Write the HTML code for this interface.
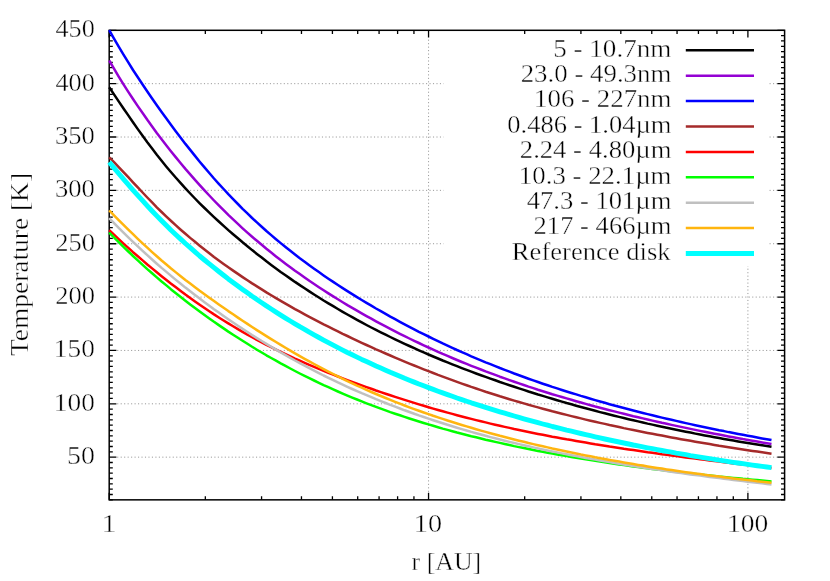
<!DOCTYPE html>
<html><head><meta charset="utf-8"><title>Temperature vs r</title>
<style>
html,body{margin:0;padding:0;background:#fff;}
svg{display:block;will-change:transform;}
text{font-family:"Liberation Serif",serif;font-size:24.2px;fill:#000;stroke:#fff;stroke-width:0.4px;}
.g{stroke:#808080;stroke-width:0.8;stroke-dasharray:1.1 2.37;fill:none;}
.t{stroke:#000;stroke-width:1.3;fill:none;}
.c{fill:none;stroke-linecap:butt;stroke-linejoin:round;}
</style></head><body>
<svg width="830" height="581" viewBox="0 0 830 581">
<rect x="0" y="0" width="830" height="581" fill="#ffffff"/>
<g class="g">
<line x1="117.20" y1="457.16" x2="777.60" y2="457.16"/>
<line x1="117.20" y1="403.81" x2="777.60" y2="403.81"/>
<line x1="117.20" y1="350.45" x2="777.60" y2="350.45"/>
<line x1="117.20" y1="297.09" x2="777.60" y2="297.09"/>
<line x1="117.20" y1="243.73" x2="777.60" y2="243.73"/>
<line x1="117.20" y1="190.37" x2="777.60" y2="190.37"/>
<line x1="117.20" y1="137.02" x2="777.60" y2="137.02"/>
<line x1="117.20" y1="83.66" x2="777.60" y2="83.66"/>
<line x1="428.55" y1="491.85" x2="428.55" y2="37.30"/>
<line x1="747.90" y1="491.85" x2="747.90" y2="37.30"/>
</g>
<rect x="443.5" y="33" width="325.5" height="233" fill="#ffffff"/>
<path class="t" d="M109.20 499.85h3.6M784.60 499.85h-3.6M109.20 494.51h3.6M784.60 494.51h-3.6M109.20 489.18h3.6M784.60 489.18h-3.6M109.20 483.84h3.6M784.60 483.84h-3.6M109.20 478.51h3.6M784.60 478.51h-3.6M109.20 473.17h3.6M784.60 473.17h-3.6M109.20 467.84h3.6M784.60 467.84h-3.6M109.20 462.50h3.6M784.60 462.50h-3.6M109.20 457.16h7.2M784.60 457.16h-7.2M109.20 451.83h3.6M784.60 451.83h-3.6M109.20 446.49h3.6M784.60 446.49h-3.6M109.20 441.16h3.6M784.60 441.16h-3.6M109.20 435.82h3.6M784.60 435.82h-3.6M109.20 430.49h3.6M784.60 430.49h-3.6M109.20 425.15h3.6M784.60 425.15h-3.6M109.20 419.81h3.6M784.60 419.81h-3.6M109.20 414.48h3.6M784.60 414.48h-3.6M109.20 409.14h3.6M784.60 409.14h-3.6M109.20 403.81h7.2M784.60 403.81h-7.2M109.20 398.47h3.6M784.60 398.47h-3.6M109.20 393.13h3.6M784.60 393.13h-3.6M109.20 387.80h3.6M784.60 387.80h-3.6M109.20 382.46h3.6M784.60 382.46h-3.6M109.20 377.13h3.6M784.60 377.13h-3.6M109.20 371.79h3.6M784.60 371.79h-3.6M109.20 366.46h3.6M784.60 366.46h-3.6M109.20 361.12h3.6M784.60 361.12h-3.6M109.20 355.78h3.6M784.60 355.78h-3.6M109.20 350.45h7.2M784.60 350.45h-7.2M109.20 345.11h3.6M784.60 345.11h-3.6M109.20 339.78h3.6M784.60 339.78h-3.6M109.20 334.44h3.6M784.60 334.44h-3.6M109.20 329.10h3.6M784.60 329.10h-3.6M109.20 323.77h3.6M784.60 323.77h-3.6M109.20 318.43h3.6M784.60 318.43h-3.6M109.20 313.10h3.6M784.60 313.10h-3.6M109.20 307.76h3.6M784.60 307.76h-3.6M109.20 302.43h3.6M784.60 302.43h-3.6M109.20 297.09h7.2M784.60 297.09h-7.2M109.20 291.75h3.6M784.60 291.75h-3.6M109.20 286.42h3.6M784.60 286.42h-3.6M109.20 281.08h3.6M784.60 281.08h-3.6M109.20 275.75h3.6M784.60 275.75h-3.6M109.20 270.41h3.6M784.60 270.41h-3.6M109.20 265.08h3.6M784.60 265.08h-3.6M109.20 259.74h3.6M784.60 259.74h-3.6M109.20 254.40h3.6M784.60 254.40h-3.6M109.20 249.07h3.6M784.60 249.07h-3.6M109.20 243.73h7.2M784.60 243.73h-7.2M109.20 238.40h3.6M784.60 238.40h-3.6M109.20 233.06h3.6M784.60 233.06h-3.6M109.20 227.72h3.6M784.60 227.72h-3.6M109.20 222.39h3.6M784.60 222.39h-3.6M109.20 217.05h3.6M784.60 217.05h-3.6M109.20 211.72h3.6M784.60 211.72h-3.6M109.20 206.38h3.6M784.60 206.38h-3.6M109.20 201.05h3.6M784.60 201.05h-3.6M109.20 195.71h3.6M784.60 195.71h-3.6M109.20 190.37h7.2M784.60 190.37h-7.2M109.20 185.04h3.6M784.60 185.04h-3.6M109.20 179.70h3.6M784.60 179.70h-3.6M109.20 174.37h3.6M784.60 174.37h-3.6M109.20 169.03h3.6M784.60 169.03h-3.6M109.20 163.70h3.6M784.60 163.70h-3.6M109.20 158.36h3.6M784.60 158.36h-3.6M109.20 153.02h3.6M784.60 153.02h-3.6M109.20 147.69h3.6M784.60 147.69h-3.6M109.20 142.35h3.6M784.60 142.35h-3.6M109.20 137.02h7.2M784.60 137.02h-7.2M109.20 131.68h3.6M784.60 131.68h-3.6M109.20 126.34h3.6M784.60 126.34h-3.6M109.20 121.01h3.6M784.60 121.01h-3.6M109.20 115.67h3.6M784.60 115.67h-3.6M109.20 110.34h3.6M784.60 110.34h-3.6M109.20 105.00h3.6M784.60 105.00h-3.6M109.20 99.67h3.6M784.60 99.67h-3.6M109.20 94.33h3.6M784.60 94.33h-3.6M109.20 88.99h3.6M784.60 88.99h-3.6M109.20 83.66h7.2M784.60 83.66h-7.2M109.20 78.32h3.6M784.60 78.32h-3.6M109.20 72.99h3.6M784.60 72.99h-3.6M109.20 67.65h3.6M784.60 67.65h-3.6M109.20 62.31h3.6M784.60 62.31h-3.6M109.20 56.98h3.6M784.60 56.98h-3.6M109.20 51.64h3.6M784.60 51.64h-3.6M109.20 46.31h3.6M784.60 46.31h-3.6M109.20 40.97h3.6M784.60 40.97h-3.6M109.20 35.64h3.6M784.60 35.64h-3.6M109.20 30.30h7.2M784.60 30.30h-7.2M109.20 499.85v-7.2M109.20 30.30v7.2M205.33 499.85v-3.6M205.33 30.30v3.6M261.57 499.85v-3.6M261.57 30.30v3.6M301.47 499.85v-3.6M301.47 30.30v3.6M332.42 499.85v-3.6M332.42 30.30v3.6M357.70 499.85v-3.6M357.70 30.30v3.6M379.08 499.85v-3.6M379.08 30.30v3.6M397.60 499.85v-3.6M397.60 30.30v3.6M413.94 499.85v-3.6M413.94 30.30v3.6M428.55 499.85v-7.2M428.55 30.30v7.2M524.68 499.85v-3.6M524.68 30.30v3.6M580.92 499.85v-3.6M580.92 30.30v3.6M620.82 499.85v-3.6M620.82 30.30v3.6M651.77 499.85v-3.6M651.77 30.30v3.6M677.05 499.85v-3.6M677.05 30.30v3.6M698.43 499.85v-3.6M698.43 30.30v3.6M716.95 499.85v-3.6M716.95 30.30v3.6M733.29 499.85v-3.6M733.29 30.30v3.6M747.90 499.85v-7.2M747.90 30.30v7.2"/>
<rect x="109.20" y="30.30" width="675.40" height="469.55" fill="none" stroke="#000" stroke-width="1.5"/>
<polyline class="c" stroke="#000000" stroke-width="2.5" points="109.2,87.3 114.0,94.4 118.7,101.4 123.5,108.5 128.3,115.4 133.0,122.3 137.8,129.1 142.6,135.8 147.3,142.3 152.1,148.6 156.8,154.8 161.6,160.8 166.4,166.7 171.1,172.3 175.9,177.8 180.7,183.2 185.4,188.4 190.2,193.5 195.0,198.5 199.7,203.3 204.5,208.0 209.3,212.6 214.0,217.1 218.8,221.5 223.6,225.9 228.3,230.1 233.1,234.2 237.9,238.3 242.6,242.3 247.4,246.2 252.1,250.1 256.9,253.9 261.7,257.6 266.4,261.3 271.2,264.9 276.0,268.4 280.7,271.9 285.5,275.3 290.3,278.6 295.0,281.9 299.8,285.1 304.6,288.3 309.3,291.4 314.1,294.5 318.9,297.5 323.6,300.5 328.4,303.4 333.2,306.2 337.9,309.0 342.7,311.8 347.4,314.5 352.2,317.2 357.0,319.8 361.7,322.4 366.5,325.0 371.3,327.5 376.0,329.9 380.8,332.3 385.6,334.7 390.3,337.0 395.1,339.3 399.9,341.6 404.6,343.8 409.4,346.0 414.2,348.2 418.9,350.3 423.7,352.4 428.5,354.5 433.2,356.5 438.0,358.5 442.7,360.5 447.5,362.4 452.3,364.3 457.0,366.2 461.8,368.1 466.6,369.9 471.3,371.7 476.1,373.5 480.9,375.2 485.6,376.9 490.4,378.6 495.2,380.3 499.9,382.0 504.7,383.6 509.5,385.2 514.2,386.8 519.0,388.4 523.8,389.9 528.5,391.5 533.3,393.0 538.0,394.5 542.8,395.9 547.6,397.4 552.3,398.8 557.1,400.2 561.9,401.6 566.6,403.0 571.4,404.3 576.2,405.7 580.9,407.0 585.7,408.3 590.5,409.5 595.2,410.8 600.0,412.1 604.8,413.3 609.5,414.5 614.3,415.7 619.1,416.9 623.8,418.0 628.6,419.2 633.3,420.3 638.1,421.4 642.9,422.5 647.6,423.6 652.4,424.6 657.2,425.7 661.9,426.7 666.7,427.7 671.5,428.7 676.2,429.7 681.0,430.7 685.8,431.7 690.5,432.6 695.3,433.6 700.1,434.5 704.8,435.4 709.6,436.3 714.4,437.2 719.1,438.0 723.9,438.9 728.6,439.7 733.4,440.5 738.2,441.4 742.9,442.2 747.7,443.0 752.5,443.7 757.2,444.5 762.0,445.3 766.8,446.0 771.5,446.7"/>
<polyline class="c" stroke="#9400d3" stroke-width="2.5" points="109.2,60.5 114.0,68.7 118.7,76.6 123.5,84.3 128.3,91.8 133.0,99.0 137.8,106.1 142.6,113.0 147.3,119.8 152.1,126.4 156.8,132.9 161.6,139.2 166.4,145.4 171.1,151.4 175.9,157.4 180.7,163.2 185.4,168.9 190.2,174.4 195.0,179.9 199.7,185.2 204.5,190.4 209.3,195.5 214.0,200.5 218.8,205.4 223.6,210.2 228.3,214.9 233.1,219.4 237.9,223.9 242.6,228.3 247.4,232.6 252.1,236.7 256.9,240.8 261.7,244.8 266.4,248.8 271.2,252.6 276.0,256.4 280.7,260.1 285.5,263.7 290.3,267.2 295.0,270.7 299.8,274.1 304.6,277.5 309.3,280.8 314.1,284.0 318.9,287.2 323.6,290.3 328.4,293.4 333.2,296.4 337.9,299.3 342.7,302.2 347.4,305.1 352.2,307.9 357.0,310.7 361.7,313.4 366.5,316.1 371.3,318.7 376.0,321.3 380.8,323.9 385.6,326.4 390.3,328.9 395.1,331.4 399.9,333.8 404.6,336.1 409.4,338.5 414.2,340.8 418.9,343.0 423.7,345.3 428.5,347.5 433.2,349.6 438.0,351.8 442.7,353.9 447.5,355.9 452.3,358.0 457.0,360.0 461.8,362.0 466.6,363.9 471.3,365.8 476.1,367.7 480.9,369.5 485.6,371.4 490.4,373.2 495.2,374.9 499.9,376.7 504.7,378.4 509.5,380.1 514.2,381.7 519.0,383.4 523.8,385.0 528.5,386.6 533.3,388.1 538.0,389.7 542.8,391.2 547.6,392.7 552.3,394.2 557.1,395.6 561.9,397.0 566.6,398.4 571.4,399.8 576.2,401.2 580.9,402.5 585.7,403.9 590.5,405.2 595.2,406.5 600.0,407.7 604.8,409.0 609.5,410.2 614.3,411.4 619.1,412.6 623.8,413.8 628.6,415.0 633.3,416.2 638.1,417.3 642.9,418.4 647.6,419.5 652.4,420.6 657.2,421.7 661.9,422.8 666.7,423.8 671.5,424.9 676.2,425.9 681.0,426.9 685.8,427.9 690.5,428.9 695.3,429.9 700.1,430.9 704.8,431.8 709.6,432.8 714.4,433.7 719.1,434.6 723.9,435.5 728.6,436.4 733.4,437.3 738.2,438.2 742.9,439.1 747.7,439.9 752.5,440.8 757.2,441.6 762.0,442.5 766.8,443.3 771.5,444.1"/>
<polyline class="c" stroke="#0000ff" stroke-width="2.5" points="109.2,30.1 114.0,38.6 118.7,46.7 123.5,54.7 128.3,62.4 133.0,70.0 137.8,77.3 142.6,84.5 147.3,91.5 152.1,98.5 156.8,105.3 161.6,112.0 166.4,118.5 171.1,125.0 175.9,131.4 180.7,137.7 185.4,143.9 190.2,149.9 195.0,155.9 199.7,161.7 204.5,167.4 209.3,173.0 214.0,178.5 218.8,183.8 223.6,189.0 228.3,194.2 233.1,199.2 237.9,204.0 242.6,208.8 247.4,213.4 252.1,218.0 256.9,222.4 261.7,226.7 266.4,231.0 271.2,235.1 276.0,239.2 280.7,243.1 285.5,247.0 290.3,250.8 295.0,254.5 299.8,258.2 304.6,261.7 309.3,265.3 314.1,268.7 318.9,272.1 323.6,275.4 328.4,278.7 333.2,281.9 337.9,285.0 342.7,288.1 347.4,291.1 352.2,294.1 357.0,297.1 361.7,300.0 366.5,302.9 371.3,305.7 376.0,308.5 380.8,311.2 385.6,313.9 390.3,316.6 395.1,319.2 399.9,321.8 404.6,324.3 409.4,326.8 414.2,329.3 418.9,331.8 423.7,334.2 428.5,336.5 433.2,338.8 438.0,341.1 442.7,343.4 447.5,345.6 452.3,347.8 457.0,350.0 461.8,352.1 466.6,354.2 471.3,356.3 476.1,358.3 480.9,360.3 485.6,362.3 490.4,364.2 495.2,366.1 499.9,368.0 504.7,369.8 509.5,371.7 514.2,373.5 519.0,375.2 523.8,377.0 528.5,378.7 533.3,380.4 538.0,382.0 542.8,383.7 547.6,385.3 552.3,386.9 557.1,388.4 561.9,390.0 566.6,391.5 571.4,393.0 576.2,394.4 580.9,395.9 585.7,397.3 590.5,398.7 595.2,400.1 600.0,401.5 604.8,402.8 609.5,404.2 614.3,405.5 619.1,406.8 623.8,408.0 628.6,409.3 633.3,410.5 638.1,411.8 642.9,413.0 647.6,414.1 652.4,415.3 657.2,416.5 661.9,417.6 666.7,418.7 671.5,419.8 676.2,420.9 681.0,422.0 685.8,423.1 690.5,424.1 695.3,425.2 700.1,426.2 704.8,427.2 709.6,428.2 714.4,429.2 719.1,430.2 723.9,431.1 728.6,432.1 733.4,433.0 738.2,433.9 742.9,434.8 747.7,435.7 752.5,436.6 757.2,437.5 762.0,438.4 766.8,439.2 771.5,440.1"/>
<polyline class="c" stroke="#a52a2a" stroke-width="2.5" points="109.2,157.3 114.0,162.1 118.7,167.1 123.5,172.1 128.3,177.2 133.0,182.3 137.8,187.4 142.6,192.5 147.3,197.5 152.1,202.4 156.8,207.3 161.6,212.0 166.4,216.6 171.1,221.0 175.9,225.4 180.7,229.7 185.4,233.8 190.2,237.9 195.0,241.8 199.7,245.7 204.5,249.5 209.3,253.2 214.0,256.9 218.8,260.4 223.6,263.9 228.3,267.3 233.1,270.6 237.9,273.9 242.6,277.1 247.4,280.3 252.1,283.4 256.9,286.4 261.7,289.4 266.4,292.4 271.2,295.3 276.0,298.1 280.7,300.9 285.5,303.7 290.3,306.4 295.0,309.1 299.8,311.7 304.6,314.3 309.3,316.8 314.1,319.3 318.9,321.8 323.6,324.3 328.4,326.7 333.2,329.1 337.9,331.4 342.7,333.8 347.4,336.0 352.2,338.3 357.0,340.6 361.7,342.8 366.5,345.0 371.3,347.1 376.0,349.3 380.8,351.4 385.6,353.5 390.3,355.5 395.1,357.6 399.9,359.6 404.6,361.6 409.4,363.6 414.2,365.5 418.9,367.4 423.7,369.3 428.5,371.2 433.2,373.0 438.0,374.9 442.7,376.6 447.5,378.4 452.3,380.2 457.0,381.9 461.8,383.6 466.6,385.2 471.3,386.9 476.1,388.5 480.9,390.1 485.6,391.7 490.4,393.2 495.2,394.8 499.9,396.3 504.7,397.7 509.5,399.2 514.2,400.6 519.0,402.0 523.8,403.4 528.5,404.8 533.3,406.1 538.0,407.4 542.8,408.7 547.6,410.0 552.3,411.3 557.1,412.5 561.9,413.7 566.6,414.9 571.4,416.1 576.2,417.3 580.9,418.4 585.7,419.6 590.5,420.7 595.2,421.8 600.0,422.9 604.8,423.9 609.5,425.0 614.3,426.0 619.1,427.0 623.8,428.1 628.6,429.1 633.3,430.0 638.1,431.0 642.9,432.0 647.6,432.9 652.4,433.8 657.2,434.7 661.9,435.6 666.7,436.5 671.5,437.4 676.2,438.3 681.0,439.2 685.8,440.0 690.5,440.8 695.3,441.7 700.1,442.5 704.8,443.3 709.6,444.1 714.4,444.9 719.1,445.7 723.9,446.4 728.6,447.2 733.4,448.0 738.2,448.7 742.9,449.4 747.7,450.2 752.5,450.9 757.2,451.6 762.0,452.3 766.8,453.0 771.5,453.7"/>
<polyline class="c" stroke="#ff0000" stroke-width="2.5" points="109.2,230.2 114.0,234.7 118.7,239.2 123.5,243.6 128.3,247.9 133.0,252.2 137.8,256.3 142.6,260.4 147.3,264.5 152.1,268.4 156.8,272.3 161.6,276.2 166.4,280.0 171.1,283.7 175.9,287.3 180.7,290.9 185.4,294.5 190.2,298.0 195.0,301.4 199.7,304.7 204.5,308.0 209.3,311.2 214.0,314.4 218.8,317.5 223.6,320.5 228.3,323.4 233.1,326.3 237.9,329.1 242.6,331.9 247.4,334.6 252.1,337.2 256.9,339.8 261.7,342.3 266.4,344.8 271.2,347.2 276.0,349.6 280.7,351.9 285.5,354.2 290.3,356.4 295.0,358.6 299.8,360.7 304.6,362.8 309.3,364.9 314.1,366.9 318.9,368.9 323.6,370.8 328.4,372.8 333.2,374.7 337.9,376.5 342.7,378.4 347.4,380.2 352.2,381.9 357.0,383.7 361.7,385.4 366.5,387.1 371.3,388.8 376.0,390.5 380.8,392.1 385.6,393.7 390.3,395.3 395.1,396.9 399.9,398.4 404.6,399.9 409.4,401.4 414.2,402.9 418.9,404.4 423.7,405.8 428.5,407.2 433.2,408.6 438.0,410.0 442.7,411.3 447.5,412.6 452.3,413.9 457.0,415.2 461.8,416.5 466.6,417.7 471.3,418.9 476.1,420.1 480.9,421.3 485.6,422.4 490.4,423.6 495.2,424.7 499.9,425.8 504.7,426.9 509.5,427.9 514.2,429.0 519.0,430.0 523.8,431.0 528.5,432.0 533.3,433.0 538.0,433.9 542.8,434.8 547.6,435.8 552.3,436.7 557.1,437.5 561.9,438.4 566.6,439.3 571.4,440.1 576.2,441.0 580.9,441.8 585.7,442.6 590.5,443.4 595.2,444.2 600.0,444.9 604.8,445.7 609.5,446.5 614.3,447.2 619.1,447.9 623.8,448.7 628.6,449.4 633.3,450.1 638.1,450.8 642.9,451.5 647.6,452.2 652.4,452.8 657.2,453.5 661.9,454.2 666.7,454.8 671.5,455.5 676.2,456.1 681.0,456.7 685.8,457.4 690.5,458.0 695.3,458.6 700.1,459.2 704.8,459.8 709.6,460.4 714.4,461.0 719.1,461.6 723.9,462.2 728.6,462.8 733.4,463.4 738.2,463.9 742.9,464.5 747.7,465.1 752.5,465.6 757.2,466.2 762.0,466.8 766.8,467.3 771.5,467.9"/>
<polyline class="c" stroke="#00ff00" stroke-width="2.5" points="109.2,232.6 114.0,237.5 118.7,242.2 123.5,246.9 128.3,251.5 133.0,256.0 137.8,260.4 142.6,264.8 147.3,269.1 152.1,273.3 156.8,277.4 161.6,281.5 166.4,285.4 171.1,289.4 175.9,293.2 180.7,297.0 185.4,300.7 190.2,304.4 195.0,308.0 199.7,311.5 204.5,315.0 209.3,318.4 214.0,321.8 218.8,325.1 223.6,328.4 228.3,331.6 233.1,334.7 237.9,337.8 242.6,340.8 247.4,343.8 252.1,346.8 256.9,349.7 261.7,352.5 266.4,355.3 271.2,358.0 276.0,360.7 280.7,363.4 285.5,365.9 290.3,368.5 295.0,371.0 299.8,373.5 304.6,375.9 309.3,378.2 314.1,380.5 318.9,382.8 323.6,385.1 328.4,387.2 333.2,389.4 337.9,391.5 342.7,393.6 347.4,395.6 352.2,397.6 357.0,399.5 361.7,401.4 366.5,403.3 371.3,405.1 376.0,406.9 380.8,408.7 385.6,410.4 390.3,412.1 395.1,413.7 399.9,415.3 404.6,416.9 409.4,418.5 414.2,420.0 418.9,421.5 423.7,423.0 428.5,424.4 433.2,425.8 438.0,427.2 442.7,428.6 447.5,429.9 452.3,431.2 457.0,432.5 461.8,433.7 466.6,435.0 471.3,436.2 476.1,437.3 480.9,438.5 485.6,439.7 490.4,440.8 495.2,441.9 499.9,442.9 504.7,444.0 509.5,445.0 514.2,446.1 519.0,447.1 523.8,448.0 528.5,449.0 533.3,450.0 538.0,450.9 542.8,451.8 547.6,452.7 552.3,453.6 557.1,454.4 561.9,455.3 566.6,456.1 571.4,456.9 576.2,457.7 580.9,458.5 585.7,459.3 590.5,460.1 595.2,460.8 600.0,461.6 604.8,462.3 609.5,463.0 614.3,463.7 619.1,464.4 623.8,465.1 628.6,465.7 633.3,466.4 638.1,467.0 642.9,467.7 647.6,468.3 652.4,468.9 657.2,469.5 661.9,470.1 666.7,470.7 671.5,471.2 676.2,471.8 681.0,472.3 685.8,472.9 690.5,473.4 695.3,474.0 700.1,474.5 704.8,475.0 709.6,475.5 714.4,476.0 719.1,476.5 723.9,476.9 728.6,477.4 733.4,477.9 738.2,478.3 742.9,478.8 747.7,479.2 752.5,479.7 757.2,480.1 762.0,480.5 766.8,480.9 771.5,481.4"/>
<polyline class="c" stroke="#c0c0c0" stroke-width="2.5" points="109.2,218.1 114.0,223.1 118.7,227.9 123.5,232.7 128.3,237.3 133.0,241.9 137.8,246.4 142.6,250.9 147.3,255.2 152.1,259.5 156.8,263.7 161.6,267.9 166.4,271.9 171.1,275.9 175.9,279.9 180.7,283.8 185.4,287.6 190.2,291.3 195.0,295.0 199.7,298.6 204.5,302.2 209.3,305.7 214.0,309.2 218.8,312.6 223.6,316.0 228.3,319.3 233.1,322.5 237.9,325.7 242.6,328.9 247.4,332.0 252.1,335.1 256.9,338.1 261.7,341.0 266.4,343.9 271.2,346.8 276.0,349.6 280.7,352.4 285.5,355.1 290.3,357.8 295.0,360.5 299.8,363.1 304.6,365.6 309.3,368.2 314.1,370.6 318.9,373.1 323.6,375.5 328.4,377.8 333.2,380.1 337.9,382.4 342.7,384.6 347.4,386.8 352.2,389.0 357.0,391.1 361.7,393.2 366.5,395.2 371.3,397.2 376.0,399.2 380.8,401.1 385.6,403.0 390.3,404.9 395.1,406.7 399.9,408.5 404.6,410.3 409.4,412.0 414.2,413.7 418.9,415.4 423.7,417.0 428.5,418.6 433.2,420.2 438.0,421.8 442.7,423.3 447.5,424.8 452.3,426.3 457.0,427.7 461.8,429.1 466.6,430.5 471.3,431.9 476.1,433.2 480.9,434.5 485.6,435.8 490.4,437.1 495.2,438.3 499.9,439.5 504.7,440.7 509.5,441.9 514.2,443.0 519.0,444.1 523.8,445.2 528.5,446.3 533.3,447.4 538.0,448.4 542.8,449.5 547.6,450.5 552.3,451.4 557.1,452.4 561.9,453.4 566.6,454.3 571.4,455.2 576.2,456.1 580.9,457.0 585.7,457.9 590.5,458.7 595.2,459.6 600.0,460.4 604.8,461.3 609.5,462.1 614.3,462.9 619.1,463.7 623.8,464.4 628.6,465.2 633.3,466.0 638.1,466.7 642.9,467.5 647.6,468.2 652.4,468.9 657.2,469.6 661.9,470.3 666.7,471.0 671.5,471.7 676.2,472.4 681.0,473.0 685.8,473.7 690.5,474.4 695.3,475.0 700.1,475.6 704.8,476.3 709.6,476.9 714.4,477.5 719.1,478.1 723.9,478.7 728.6,479.3 733.4,479.9 738.2,480.5 742.9,481.1 747.7,481.7 752.5,482.2 757.2,482.8 762.0,483.3 766.8,483.9 771.5,484.4"/>
<polyline class="c" stroke="#ffb50f" stroke-width="2.5" points="109.2,210.4 114.0,215.3 118.7,220.1 123.5,224.9 128.3,229.6 133.0,234.2 137.8,238.8 142.6,243.3 147.3,247.7 152.1,252.1 156.8,256.3 161.6,260.5 166.4,264.5 171.1,268.5 175.9,272.4 180.7,276.2 185.4,280.0 190.2,283.6 195.0,287.2 199.7,290.8 204.5,294.3 209.3,297.7 214.0,301.1 218.8,304.5 223.6,307.8 228.3,311.1 233.1,314.3 237.9,317.6 242.6,320.7 247.4,323.9 252.1,327.0 256.9,330.1 261.7,333.1 266.4,336.1 271.2,339.1 276.0,342.0 280.7,344.9 285.5,347.8 290.3,350.6 295.0,353.4 299.8,356.1 304.6,358.8 309.3,361.4 314.1,364.0 318.9,366.6 323.6,369.1 328.4,371.6 333.2,374.0 337.9,376.4 342.7,378.8 347.4,381.1 352.2,383.3 357.0,385.6 361.7,387.7 366.5,389.9 371.3,392.0 376.0,394.0 380.8,396.0 385.6,398.0 390.3,399.9 395.1,401.8 399.9,403.7 404.6,405.5 409.4,407.3 414.2,409.1 418.9,410.8 423.7,412.5 428.5,414.1 433.2,415.8 438.0,417.4 442.7,418.9 447.5,420.5 452.3,422.0 457.0,423.5 461.8,425.0 466.6,426.4 471.3,427.8 476.1,429.2 480.9,430.6 485.6,431.9 490.4,433.2 495.2,434.5 499.9,435.8 504.7,437.0 509.5,438.3 514.2,439.5 519.0,440.7 523.8,441.8 528.5,443.0 533.3,444.1 538.0,445.2 542.8,446.3 547.6,447.4 552.3,448.5 557.1,449.5 561.9,450.5 566.6,451.5 571.4,452.5 576.2,453.5 580.9,454.5 585.7,455.4 590.5,456.3 595.2,457.3 600.0,458.2 604.8,459.0 609.5,459.9 614.3,460.8 619.1,461.6 623.8,462.4 628.6,463.3 633.3,464.1 638.1,464.9 642.9,465.6 647.6,466.4 652.4,467.2 657.2,467.9 661.9,468.6 666.7,469.4 671.5,470.1 676.2,470.8 681.0,471.5 685.8,472.2 690.5,472.8 695.3,473.5 700.1,474.1 704.8,474.8 709.6,475.4 714.4,476.0 719.1,476.6 723.9,477.2 728.6,477.8 733.4,478.4 738.2,479.0 742.9,479.5 747.7,480.1 752.5,480.6 757.2,481.2 762.0,481.7 766.8,482.2 771.5,482.7"/>
<polyline class="c" stroke="#00ffff" stroke-width="4.9" points="109.2,162.1 114.0,167.8 118.7,173.5 123.5,179.1 128.3,184.6 133.0,190.1 137.8,195.4 142.6,200.7 147.3,205.9 152.1,211.0 156.8,215.9 161.6,220.8 166.4,225.5 171.1,230.2 175.9,234.7 180.7,239.1 185.4,243.5 190.2,247.7 195.0,251.9 199.7,256.0 204.5,260.0 209.3,263.9 214.0,267.7 218.8,271.5 223.6,275.2 228.3,278.9 233.1,282.4 237.9,286.0 242.6,289.4 247.4,292.8 252.1,296.2 256.9,299.5 261.7,302.7 266.4,305.9 271.2,309.0 276.0,312.1 280.7,315.1 285.5,318.1 290.3,321.0 295.0,323.8 299.8,326.7 304.6,329.4 309.3,332.2 314.1,334.9 318.9,337.5 323.6,340.1 328.4,342.7 333.2,345.2 337.9,347.6 342.7,350.1 347.4,352.5 352.2,354.8 357.0,357.1 361.7,359.4 366.5,361.6 371.3,363.8 376.0,366.0 380.8,368.1 385.6,370.2 390.3,372.3 395.1,374.3 399.9,376.3 404.6,378.3 409.4,380.2 414.2,382.1 418.9,384.0 423.7,385.8 428.5,387.6 433.2,389.4 438.0,391.2 442.7,392.9 447.5,394.6 452.3,396.3 457.0,398.0 461.8,399.6 466.6,401.2 471.3,402.8 476.1,404.3 480.9,405.9 485.6,407.4 490.4,408.9 495.2,410.4 499.9,411.8 504.7,413.2 509.5,414.6 514.2,416.0 519.0,417.4 523.8,418.8 528.5,420.1 533.3,421.4 538.0,422.7 542.8,424.0 547.6,425.2 552.3,426.5 557.1,427.7 561.9,428.9 566.6,430.1 571.4,431.2 576.2,432.4 580.9,433.5 585.7,434.6 590.5,435.7 595.2,436.8 600.0,437.9 604.8,439.0 609.5,440.0 614.3,441.0 619.1,442.0 623.8,443.0 628.6,444.0 633.3,445.0 638.1,445.9 642.9,446.9 647.6,447.8 652.4,448.7 657.2,449.6 661.9,450.5 666.7,451.4 671.5,452.2 676.2,453.1 681.0,453.9 685.8,454.7 690.5,455.6 695.3,456.4 700.1,457.1 704.8,457.9 709.6,458.7 714.4,459.4 719.1,460.2 723.9,460.9 728.6,461.6 733.4,462.3 738.2,463.0 742.9,463.7 747.7,464.4 752.5,465.1 757.2,465.7 762.0,466.4 766.8,467.0 771.5,467.6"/>
<line x1="685.8" y1="50.30" x2="754" y2="50.30" stroke="#000000" stroke-width="2.5"/>
<line x1="685.8" y1="75.70" x2="754" y2="75.70" stroke="#9400d3" stroke-width="2.5"/>
<line x1="685.8" y1="101.10" x2="754" y2="101.10" stroke="#0000ff" stroke-width="2.5"/>
<line x1="685.8" y1="126.50" x2="754" y2="126.50" stroke="#a52a2a" stroke-width="2.5"/>
<line x1="685.8" y1="151.90" x2="754" y2="151.90" stroke="#ff0000" stroke-width="2.5"/>
<line x1="685.8" y1="177.30" x2="754" y2="177.30" stroke="#00ff00" stroke-width="2.5"/>
<line x1="685.8" y1="202.70" x2="754" y2="202.70" stroke="#c0c0c0" stroke-width="2.5"/>
<line x1="685.8" y1="228.10" x2="754" y2="228.10" stroke="#ffb50f" stroke-width="2.5"/>
<line x1="685.8" y1="253.50" x2="754" y2="253.50" stroke="#00ffff" stroke-width="4.9"/>
<text id="leg0" x="553.16" y="56.55" textLength="118.28" lengthAdjust="spacingAndGlyphs">5 - 10.7nm</text>
<text id="leg1" x="520.70" y="81.95" textLength="150.68" lengthAdjust="spacingAndGlyphs">23.0 - 49.3nm</text>
<text id="leg2" x="534.02" y="107.35" textLength="137.43" lengthAdjust="spacingAndGlyphs">106 - 227nm</text>
<text id="leg3" x="507.35" y="132.75" textLength="164.09" lengthAdjust="spacingAndGlyphs">0.486 - 1.04µm</text>
<text id="leg4" x="519.81" y="158.15" textLength="151.63" lengthAdjust="spacingAndGlyphs">2.24 - 4.80µm</text>
<text id="leg5" x="518.83" y="183.55" textLength="152.65" lengthAdjust="spacingAndGlyphs">10.3 - 22.1µm</text>
<text id="leg6" x="526.65" y="208.95" textLength="144.78" lengthAdjust="spacingAndGlyphs">47.3 - 101µm</text>
<text id="leg7" x="533.58" y="234.35" textLength="137.90" lengthAdjust="spacingAndGlyphs">217 - 466µm</text>
<text id="leg8" x="511.88" y="259.75" textLength="158.71" lengthAdjust="spacingAndGlyphs">Reference disk</text>
<text id="y50" x="67.04" y="464.06" textLength="27.90" lengthAdjust="spacingAndGlyphs">50</text>
<text id="y100" x="53.85" y="410.71" textLength="40.95" lengthAdjust="spacingAndGlyphs">100</text>
<text id="y150" x="53.85" y="357.35" textLength="40.95" lengthAdjust="spacingAndGlyphs">150</text>
<text id="y200" x="55.17" y="303.99" textLength="39.74" lengthAdjust="spacingAndGlyphs">200</text>
<text id="y250" x="55.17" y="250.63" textLength="39.74" lengthAdjust="spacingAndGlyphs">250</text>
<text id="y300" x="54.95" y="197.27" textLength="39.89" lengthAdjust="spacingAndGlyphs">300</text>
<text id="y350" x="54.95" y="143.92" textLength="39.89" lengthAdjust="spacingAndGlyphs">350</text>
<text id="y400" x="55.48" y="90.56" textLength="39.36" lengthAdjust="spacingAndGlyphs">400</text>
<text id="y450" x="55.48" y="37.20" textLength="39.36" lengthAdjust="spacingAndGlyphs">450</text>
<text id="x1" x="101.73" y="532.10" textLength="14.49" lengthAdjust="spacingAndGlyphs">1</text>
<text id="x10" x="413.82" y="532.10" textLength="28.19" lengthAdjust="spacingAndGlyphs">10</text>
<text id="x100" x="726.91" y="532.10" textLength="41.23" lengthAdjust="spacingAndGlyphs">100</text>
<text id="xlab" x="411.57" y="569.80" textLength="69.64" lengthAdjust="spacingAndGlyphs">r [AU]</text>
<text id="ylab" transform="rotate(-90)" x="-356.13" y="28.3" textLength="183.16" lengthAdjust="spacingAndGlyphs">Temperature [K]</text>
</svg>
</body></html>
